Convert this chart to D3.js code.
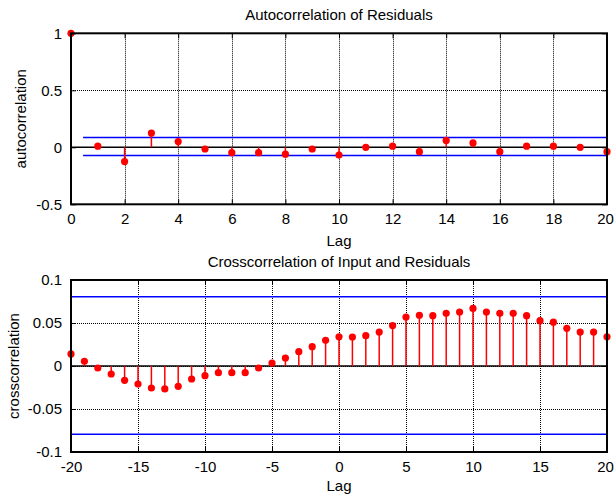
<!DOCTYPE html>
<html>
<head>
<meta charset="utf-8">
<script src="https://cdn.jsdelivr.net/npm/d3@7"></script>
<style>
  body { margin: 0; background: #fff; }
  text { font-family: "Liberation Sans", Arial, sans-serif; font-size: 15px; fill: #000; }
</style>
</head>
<body>
<div class="canva"></div>
<script>
// autocorrelation data
const acLags = d3.range(0, 21)
const acValues = [1, 0.01, -0.125, 0.125, 0.05, -0.015, -0.047, -0.047, -0.06, -0.015, -0.068,
                  0, 0.01, -0.038, 0.06, 0.038, -0.038, 0.01, 0.01, 0, -0.038]
const acBand = [0.087, -0.073]
const acXTicks = [0, 2, 4, 6, 8, 10, 12, 14, 16, 18, 20]
const acYTicks = [-0.5, 0, 0.5, 1]

// crosscorrelation data
const ccLags = d3.range(-20, 21)
const ccValues = [0.014, 0.0055, -0.0023, -0.0093, -0.0167, -0.021, -0.0256, -0.0267, -0.0236, -0.0151,
                  -0.0113, -0.0078, -0.0078, -0.0078, -0.0023, 0.0035, 0.0093, 0.0167, 0.0225, 0.0299,
                  0.034, 0.0337, 0.0353, 0.0395, 0.047, 0.057, 0.059, 0.0585, 0.0612, 0.0628,
                  0.067, 0.0628, 0.0612, 0.0612, 0.0585, 0.0527, 0.051, 0.0438, 0.0395, 0.0395, 0.034]
const ccBand = [0.0805, -0.0795]
const ccXTicks = [-20, -15, -10, -5, 0, 5, 10, 15, 20]
const ccYTicks = [-0.1, -0.05, 0, 0.05, 0.1]

const svg = d3.select('.canva').append('svg')
    .attr('width', 614)
    .attr('height', 499)

function stemPlot(opt) {
    const x = d3.scaleLinear().domain(opt.xDomain).range([71, 607])
    const y = d3.scaleLinear().domain(opt.yDomain).range([opt.bottom, opt.top])
    const g = svg.append('g')

    // grid (dotted)
    g.selectAll('.gx').data(opt.xTicks).enter().append('line')
        .attr('x1', d => Math.round(x(d)) + 0.5).attr('x2', d => Math.round(x(d)) + 0.5)
        .attr('y1', opt.top).attr('y2', opt.bottom)
        .attr('stroke', '#000').attr('stroke-dasharray', '1,1')
    g.selectAll('.gy').data(opt.yTicks).enter().append('line')
        .attr('y1', d => Math.round(y(d)) + 0.5).attr('y2', d => Math.round(y(d)) + 0.5)
        .attr('x1', 71).attr('x2', 607)
        .attr('stroke', '#000').attr('stroke-dasharray', '1,1')

    // zero line
    g.append('line')
        .attr('x1', 71).attr('x2', 607)
        .attr('y1', y(0)).attr('y2', y(0))
        .attr('stroke', '#000').attr('stroke-width', 1.5)

    // confidence bands
    g.selectAll('.band').data(opt.band).enter().append('line')
        .attr('x1', x(opt.bandStart)).attr('x2', 607)
        .attr('y1', d => y(d)).attr('y2', d => y(d))
        .attr('stroke', '#0000ff').attr('stroke-width', 1.5)

    // stems
    const pts = opt.lags.map((l, i) => ({lag: l, v: opt.values[i]}))
    g.selectAll('.stem').data(pts).enter().append('line')
        .attr('x1', d => x(d.lag)).attr('x2', d => x(d.lag))
        .attr('y1', y(0)).attr('y2', d => y(d.v))
        .attr('stroke', '#ff0000').attr('stroke-width', 1.5)
    g.selectAll('.dot').data(pts).enter().append('circle')
        .attr('cx', d => x(d.lag)).attr('cy', d => y(d.v))
        .attr('r', 3.6).attr('fill', '#ff0000')

    // box
    g.append('rect')
        .attr('x', 71).attr('y', opt.top)
        .attr('width', 536).attr('height', opt.bottom - opt.top)
        .attr('fill', 'none').attr('stroke', '#000').attr('stroke-width', 2)

    // inward ticks, hyphen minus like the original
    const fmt = d => String(d)
    const xa = g.append('g').attr('transform', `translate(0,${opt.bottom})`)
        .call(d3.axisBottom(x).tickValues(opt.xTicks).tickSizeInner(-5).tickSizeOuter(0).tickPadding(9).tickFormat(fmt))
        .call(a => a.select('.domain').remove())
    xa.selectAll('.tick text').filter(d => d === opt.xDomain[1]).attr('dx', -2)
    g.append('g').attr('transform', 'translate(71,0)')
        .call(d3.axisLeft(y).tickValues(opt.yTicks).tickSizeInner(-5).tickSizeOuter(0).tickPadding(9).tickFormat(fmt))
        .call(a => a.select('.domain').remove())
    g.append('g').attr('transform', `translate(0,${opt.top})`)
        .call(d3.axisTop(x).tickValues(opt.xTicks).tickSizeInner(-5).tickSizeOuter(0).tickFormat(''))
        .call(a => a.select('.domain').remove())
    g.append('g').attr('transform', 'translate(607,0)')
        .call(d3.axisRight(y).tickValues(opt.yTicks).tickSizeInner(-5).tickSizeOuter(0).tickFormat(''))
        .call(a => a.select('.domain').remove())
    g.selectAll('.tick text')
        .style('font-family', '"Liberation Sans", Arial, sans-serif')
        .style('font-size', '15px')
        .attr('fill', '#000')
    g.selectAll('.tick line').attr('stroke', '#000')

    // labels
    g.append('text').text(opt.title)
        .attr('x', 339).attr('y', opt.titleY).attr('text-anchor', 'middle')
    g.append('text').text('Lag')
        .attr('x', 339).attr('y', opt.lagY).attr('text-anchor', 'middle')
    g.append('text').text(opt.ylabel)
        .attr('text-anchor', 'middle')
        .attr('transform', `translate(${opt.ylabelX},${(opt.top + opt.bottom) / 2}) rotate(-90)`)
}

stemPlot({
    xDomain: [0, 20], yDomain: [-0.5, 1], top: 33.3, bottom: 204.3,
    lags: acLags, values: acValues, band: acBand, bandStart: 0.45,
    xTicks: acXTicks, yTicks: acYTicks,
    title: 'Autocorrelation of Residuals', titleY: 20, lagY: 246,
    ylabel: 'autocorrelation', ylabelX: 26
})

stemPlot({
    xDomain: [-20, 20], yDomain: [-0.1, 0.1], top: 280, bottom: 452,
    lags: ccLags, values: ccValues, band: ccBand, bandStart: -20,
    xTicks: ccXTicks, yTicks: ccYTicks,
    title: 'Crosscorrelation of Input and Residuals', titleY: 267, lagY: 491,
    ylabel: 'crosscorrelation', ylabelX: 19
})
</script>
</body>
</html>
